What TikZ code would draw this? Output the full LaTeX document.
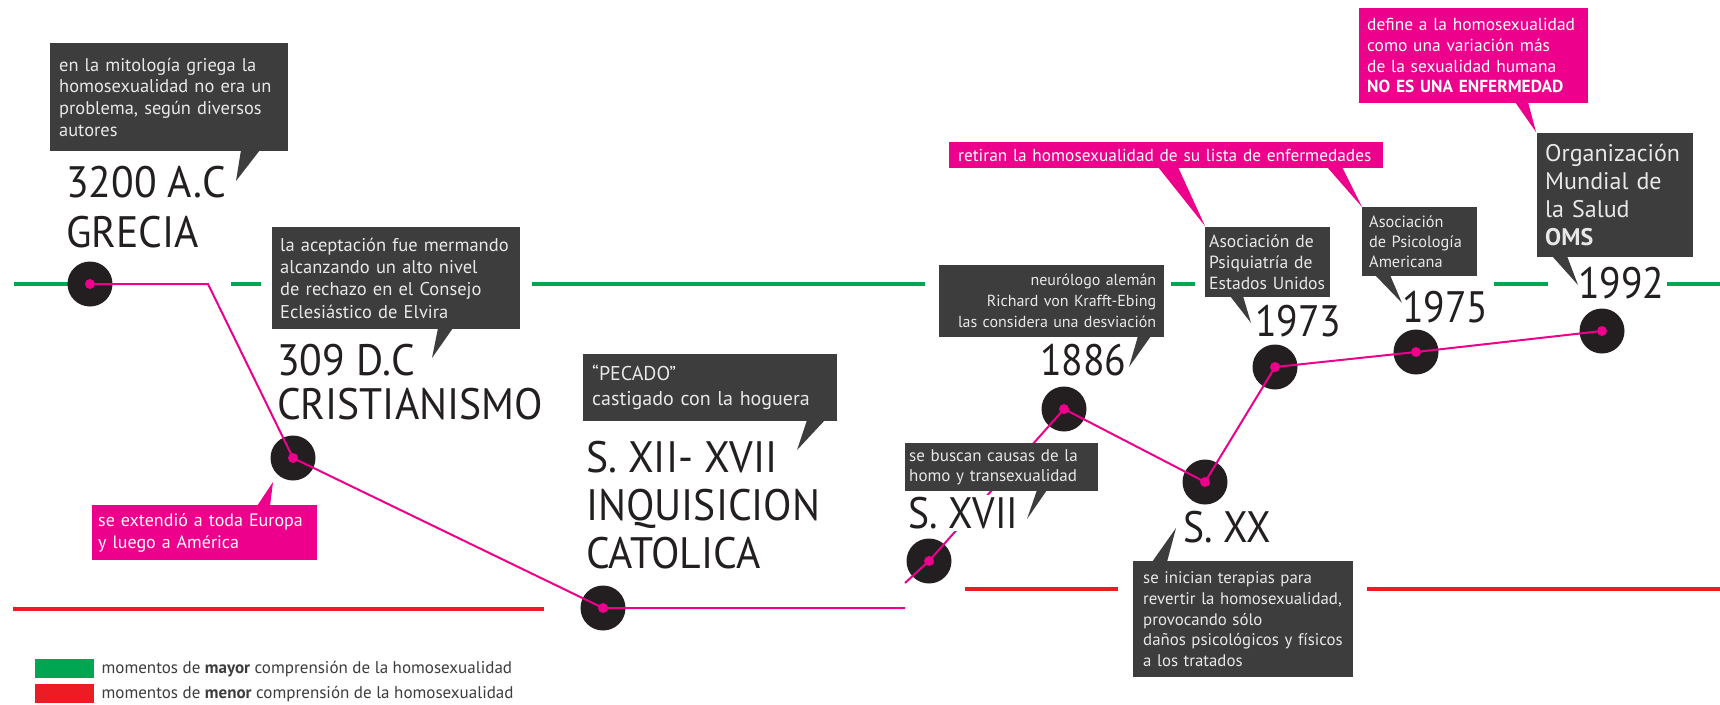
\documentclass[tikz,border=0pt]{standalone}
\usepackage{fontspec}
\setmainfont{PT Sans}
\newfontfamily\titlefont{PT Sans}[FakeStretch=0.945]
\newfontfamily\yearfont{PT Sans}[FakeStretch=0.9]
\definecolor{boxgray}{HTML}{3D3D3D}
\definecolor{boxtxt}{HTML}{E8E8E8}
\definecolor{mag}{HTML}{EC008C}
\definecolor{grn}{HTML}{00A651}
\definecolor{rd}{HTML}{ED1C24}
\definecolor{circ}{HTML}{231F20}
\begin{document}
\begin{tikzpicture}[x=1pt,y=-1pt,
 darkbox/.style={fill=boxgray,text=boxtxt,anchor=north west,align=left,inner ysep=0pt},
 pinkbox/.style={fill=mag,text=white,anchor=north west,align=left,inner ysep=0pt},
 ttl/.style={font=\titlefont\fontsize{44}{50}\selectfont,text=circ,align=left,inner sep=0pt,anchor=base west},
 yr/.style={font=\yearfont\fontsize{44}{50}\selectfont,text=circ,inner sep=0pt,anchor=base west},
 event/.style={circle,fill=circ,minimum size=45pt,inner sep=0pt},
 pinkline/.style={draw=mag,line width=2pt},
 gline/.style={draw=grn,line width=4pt},
 rline/.style={draw=rd,line width=4pt},
 taildark/.style={fill=boxgray},
 tailpink/.style={fill=mag}
]
\useasboundingbox (0,0) rectangle (1720,704);
\fill[white] (0,0) rectangle (1720,704);

% timeline bands
\draw[gline] (14,284) -- (72,284);
\draw[gline] (231,284) -- (261,284);
\draw[gline] (532,284) -- (925,284);
\draw[gline] (1171,284) -- (1195,284);
\draw[gline] (1494,284) -- (1548,284);
\draw[gline] (1667,284) -- (1720,284);
\draw[rline] (13,609) -- (544,609);
\draw[rline] (965,589) -- (1118,589);
\draw[rline] (1367,589) -- (1720,589);

% event circles
\node[event] (c1) at (90,284) {};
\node[event] (c2) at (293,458) {};
\node[event] (c3) at (603,608) {};
\node[event] (c4) at (929,561) {};
\node[event] (c5) at (1064,409) {};
\node[event] (c6) at (1205,482) {};
\node[event] (c7) at (1275,367) {};
\node[event] (c8) at (1416,352) {};
\node[event] (c9) at (1602,331) {};

% pink path
\coordinate (k1) at (208,284);
\coordinate (k2) at (905,608);
\coordinate (k3) at (905,583);
\draw[pinkline] (c1.center) -- (k1) -- (c2.center) -- (c3.center) -- (k2);
\draw[pinkline] (k3) -- (c4.center) -- (c5.center) -- (c6.center) -- (c7.center) -- (c8.center) -- (c9.center);
\foreach \c in {c1,c2,c3,c4,c5,c6,c7,c8,c9} \fill[mag] (\c.center) circle[radius=5];

% titles (anchor = baseline of last line)
\node[ttl] (t1) at (66,247) {3200 A.C\\GRECIA};
\node[ttl,font=\titlefont\fontsize{44}{44}\selectfont] (t2) at (277,419) {309 D.C\\CRISTIANISMO};
\node[ttl,font=\titlefont\fontsize{44}{48}\selectfont] (t3) at (586,568) {S. XII- XVII\\INQUISICION\\CATOLICA};
\node[yr,fill=white,inner sep=2pt] (t4) at (906,528) {S. XVII};
\node[yr] (t5) at (1183,542) {S. XX};
\node[yr] (t6) at (1040,375) {1886};
\node[yr] (t7) at (1255,336) {1973};
\node[yr] (t8) at (1402,322) {1975};
\node[yr] (t9) at (1578,298) {1992};

% dark boxes
\node[darkbox,minimum width=238pt,minimum height=108pt,text width=220pt,inner xsep=9pt,font=\fontsize{18.4}{21.7}\selectfont] (b1) at (50,43) {en la mitología griega la\\homosexualidad no era un\\problema, según diversos\\autores};
\fill[taildark] (241,150) -- (260,150) -- (236,181) -- cycle;

\node[darkbox,minimum width=248pt,minimum height=102pt,text width=232pt,inner xsep=8pt,font=\fontsize{18.5}{22.3}\selectfont] (b2) at (272,227) {la aceptación fue mermando\\alcanzando un alto nivel\\de rechazo en el Consejo\\Eclesiástico de Elvira};
\fill[taildark] (438,328) -- (453,328) -- (432,358) -- cycle;

\node[darkbox,minimum width=254pt,minimum height=67pt,text width=236pt,inner xsep=9pt,font=\fontsize{20}{25}\selectfont] (b3) at (583,354) {“PECADO”\\castigado con la hoguera};
\fill[taildark] (807,420) -- (825,420) -- (797,450) -- cycle;

\node[darkbox,minimum width=193pt,minimum height=48pt,text width=185pt,inner xsep=4pt,font=\fontsize{17}{19.5}\selectfont] (b4) at (905,443) {se buscan causas de la\\homo y transexualidad};
\fill[taildark] (1037,490) -- (1047,490) -- (1027,519) -- cycle;

\node[darkbox,minimum width=220pt,minimum height=116pt,text width=200pt,inner xsep=10pt,font=\fontsize{16.8}{20.7}\selectfont] (b5) at (1133,561) {se inician terapias para\\revertir la homosexualidad,\\provocando sólo\\daños psicológicos y físicos\\a los tratados};
\fill[taildark] (1152,562) -- (1167,562) -- (1176,528) -- cycle;

\node[darkbox,align=right,minimum width=225pt,minimum height=72pt,text width=209pt,inner xsep=8pt,font=\fontsize{16}{21}\selectfont] (b6) at (939,265) {neurólogo alemán\\Richard von Krafft-Ebing\\las considera una desviación};
\fill[taildark] (1138,336) -- (1151,336) -- (1129,367) -- cycle;

\node[darkbox,minimum width=125pt,minimum height=70pt,text width=117pt,inner xsep=4pt,font=\fontsize{17.6}{21}\selectfont] (b7) at (1205,227) {Asociación de\\Psiquiatría de\\Estados Unidos};
\fill[taildark] (1230,296) -- (1243,296) -- (1251,323) -- cycle;

\node[darkbox,minimum width=115pt,minimum height=69pt,text width=101pt,inner xsep=7pt,font=\fontsize{16.3}{20}\selectfont] (b8) at (1362,207) {Asociación\\de Psicología\\Americana};
\fill[taildark] (1375,275) -- (1390,275) -- (1402,303) -- cycle;

\node[darkbox,minimum width=156pt,minimum height=124pt,text width=140pt,inner xsep=8pt,font=\fontsize{24}{28}\selectfont] (b9) at (1537,133) {Organización\\Mundial de\\la Salud\\\textbf{OMS}};
\fill[taildark] (1552,256) -- (1567,256) -- (1578,285) -- cycle;

% pink boxes
\node[pinkbox,minimum width=225pt,minimum height=55pt,text width=213pt,inner xsep=6pt,font=\fontsize{18}{22}\selectfont] (p1) at (92,505) {se extendió a toda Europa\\y luego a América};
\fill[tailpink] (257,506) -- (270,506) -- (273,482) -- cycle;

\node[pinkbox,minimum width=434pt,minimum height=26pt,text width=416pt,inner xsep=9pt,font=\fontsize{17.3}{20}\selectfont] (p2) at (949,142) {retiran la homosexualidad de su lista de enfermedades};
\fill[tailpink] (1158,167) -- (1178,167) -- (1205,226) -- cycle;
\fill[tailpink] (1327,167) -- (1342,167) -- (1362,207) -- cycle;

\node[pinkbox,minimum width=229pt,minimum height=95pt,text width=213pt,inner xsep=8pt,font=\fontsize{17.4}{20.7}\selectfont] (p3) at (1359,8) {define a la homosexualidad\\como una variación más\\de la sexualidad humana\\\textbf{NO ES UNA ENFERMEDAD}};
\fill[tailpink] (1515,102) -- (1528,102) -- (1536,132) -- cycle;

% legend
\node[fill=grn,minimum width=59pt,minimum height=19pt,inner sep=0pt,anchor=north west] (lg) at (35,659) {};
\node[fill=rd,minimum width=59pt,minimum height=19pt,inner sep=0pt,anchor=north west] (lr) at (35,684) {};
\node[anchor=west,inner sep=0pt,text=boxgray,font=\fontsize{17}{18}\selectfont] (lgt) at ([xshift=7pt]lg.east) {momentos de \textbf{mayor} comprensión de la homosexualidad};
\node[anchor=west,inner sep=0pt,text=boxgray,font=\fontsize{17}{18}\selectfont] (lrt) at ([xshift=7pt]lr.east) {momentos de \textbf{menor} comprensión de la homosexualidad};
\end{tikzpicture}
\end{document}
